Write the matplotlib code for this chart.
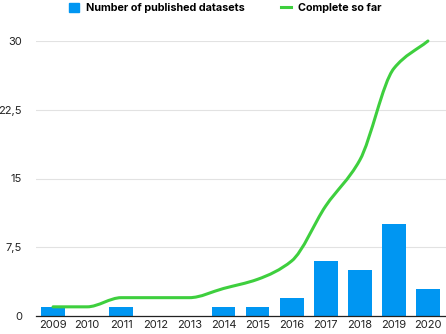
import numpy as np
import matplotlib.pyplot as plt
from matplotlib.path import Path
from matplotlib.patches import PathPatch, Patch
from matplotlib.lines import Line2D
from matplotlib.ticker import FuncFormatter

years = ['2009', '2010', '2011', '2012', '2013', '2014', '2015', '2016',
         '2017', '2018', '2019', '2020']
published = [1, 0, 1, 0, 0, 1, 1, 2, 6, 5, 10, 3]
complete = [1, 1, 2, 2, 2, 3, 4, 6, 12, 17, 27, 30]
y_ticks = [0, 7.5, 15, 22.5, 30]

BLUE = '#0096f2'
GREEN = '#3ecf3e'

plt.rcParams['font.family'] = ['Inter', 'DejaVu Sans']


def smooth_path(xs, ys):
    # monotone cubic (Fritsch-Carlson) drawn as bezier segments
    xs = np.asarray(xs, float)
    ys = np.asarray(ys, float)
    h = np.diff(xs)
    d = np.diff(ys) / h
    m = np.zeros_like(ys)
    m[0], m[-1] = d[0], d[-1]
    for i in range(1, len(ys) - 1):
        if d[i - 1] * d[i] <= 0:
            m[i] = 0
        else:
            m[i] = 2 / (1 / d[i - 1] + 1 / d[i])
    verts = [(xs[0], ys[0])]
    codes = [Path.MOVETO]
    for i in range(len(xs) - 1):
        verts += [(xs[i] + h[i] / 3, ys[i] + m[i] * h[i] / 3),
                  (xs[i + 1] - h[i] / 3, ys[i + 1] - m[i + 1] * h[i] / 3),
                  (xs[i + 1], ys[i + 1])]
        codes += [Path.CURVE4] * 3
    return Path(verts, codes)


fig = plt.figure(figsize=(4.46, 3.34), dpi=100)
ax = fig.add_axes([36 / 446, 18 / 334, 410 / 446, 275 / 334])

x = np.arange(len(years))
ax.bar(x, published, width=0.7, color=BLUE, zorder=2)
ax.add_patch(PathPatch(smooth_path(x, complete), fill=False, edgecolor=GREEN,
                       lw=2.2, capstyle='round', zorder=3, clip_on=False))

ax.set_xlim(-0.5, 11.53)
ax.set_ylim(0, 30)
ax.set_yticks(y_ticks)
ax.yaxis.set_major_formatter(FuncFormatter(
    lambda v, p: ('%g' % v).replace('.', ',')))
ax.set_xticks(x)
ax.set_xticklabels(years)
ax.grid(axis='y', color='#e2e2e2', lw=0.8, zorder=0)
for s in ['top', 'right', 'left']:
    ax.spines[s].set_visible(False)
ax.spines['bottom'].set_color('#222222')
ax.spines['bottom'].set_linewidth(0.9)
ax.spines['bottom'].set_zorder(4)
ax.tick_params(length=0, labelsize=8, colors='#222222')
ax.tick_params(axis='y', pad=10)
ax.tick_params(axis='x', pad=3)

handles = [Patch(color=BLUE), Line2D([], [], color=GREEN, lw=2.2)]
fig.legend(handles, ['Number of published datasets', 'Complete so far'],
           loc='center', bbox_to_anchor=(0.505, 1 - 8 / 334), ncol=2,
           frameon=False, prop={'size': 7.8, 'weight': 'bold'},
           handlelength=0.9, handleheight=0.9, columnspacing=3.4,
           handletextpad=0.6)

fig.savefig('out.png', dpi=100)
